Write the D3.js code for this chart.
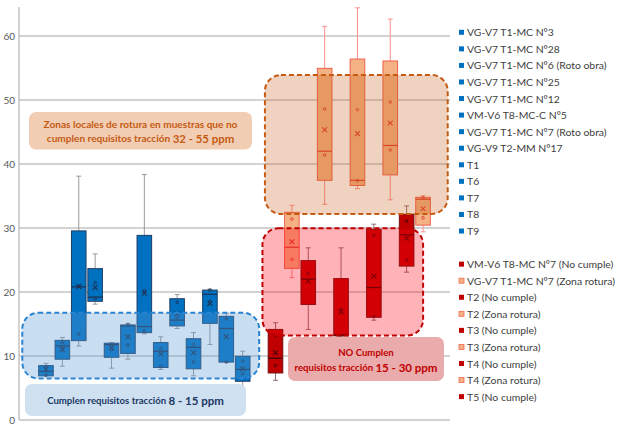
<!DOCTYPE html>
<html>
<head>
<meta charset="utf-8">
<script src="https://cdn.jsdelivr.net/npm/d3@7"></script>
<style>
  body { margin: 0; background: #fff; }
  svg { display: block; font-family: Lato, "Open Sans", sans-serif; }
</style>
</head>
<body>
<svg id="chart" width="617" height="434"></svg>
<script>
// Box-and-whisker series, one per sample; "" marks the empty slot between groups.
const seriesNames = [
  "VG-V7 T1-MC Nº3", "VG-V7 T1-MC Nº28", "VG-V7 T1-MC Nº6 (Roto obra)", "VG-V7 T1-MC Nº25",
  "VG-V7 T1-MC Nº12", "VM-V6 T8-MC-C Nº5", "VG-V7 T1-MC Nº7 (Roto obra)", "VG-V9 T2-MM Nº17",
  "T1", "T6", "T7", "T8", "T9", "",
  "VM-V6 T8-MC Nº7 (No cumple)", "VG-V7 T1-MC Nº7 (Zona rotura)", "T2 (No cumple)", "T2 (Zona rotura)",
  "T3 (No cumple)", "T3 (Zona rotura)", "T4 (No cumple)", "T4 (Zona rotura)", "T5 (No cumple)",
  "T5 (Zona rotura)"
];
// ok = meets the requirement, nc = does not, zr = local breakage zone
const seriesGroup = [
  "ok","ok","ok","ok","ok","ok","ok","ok","ok","ok","ok","ok","ok", null,
  "nc","zr","nc","zr","nc","zr","nc","zr","nc","zr"
];
const whiskerLow  = [6.9, 8.4, 11.55, 18.1, 8.1, 9.5, 13.45, 7.9, 14.3, 6.9, 11.8, 9.05, 5.0, null,
                     6.2, 22.25, 14.15, 33.7, 13.1, 36.15, 15.6, 34.4, 23.1, 29.4];
const quartile1   = [6.9, 9.5, 12.4, 18.55, 9.8, 10.4, 13.65, 8.2, 14.7, 8.0, 15.1, 9.05, 6.05, null,
                     7.35, 23.7, 18.05, 37.45, 13.15, 36.65, 16.05, 38.3, 24.05, 30.45];
const medianVal   = [7.6, 11.6, 20.8, 19.2, 11.8, 14.7, 14.6, 10.75, 15.6, 11.35, 19.65, 14.3, 7.9, null,
                     9.65, 27.0, 22.0, 42.0, 13.3, 37.45, 20.7, 42.9, 28.95, 34.5];
const quartile3   = [8.5, 12.45, 29.55, 23.65, 12.0, 14.85, 28.85, 12.1, 18.95, 12.7, 20.3, 16.2, 9.95, null,
                     14.15, 32.45, 24.9, 54.95, 22.1, 56.4, 29.8, 56.1, 32.15, 34.8];
const whiskerHigh = [8.85, 12.9, 38.1, 25.95, 12.1, 15.1, 38.35, 13.0, 19.6, 13.65, 20.45, 16.7, 10.75, null,
                     15.2, 33.55, 26.9, 61.5, 26.9, 64.4, 30.6, 62.65, 33.45, 35.05];
const meanVal     = [7.9, 11.0, 20.85, 20.7, 11.3, 13.0, 19.8, 10.3, 16.6, 10.5, 18.2, 13.0, 8.0, null,
                     10.5, 27.85, 21.7, 45.35, 16.9, 44.75, 22.45, 46.4, 28.4, 33.0];
const innerPoints = [[7.0, 8.3], [12.1, 11.3], [13.4, 20.9], [21.45, 19.0], [11.6, 11.0], [11.7, 14.9],
                     [20.2, 13.9], [11.15, 8.4], [18.4, 15.9], [11.8, 9.1], [20.3, 18.5], [15.8, 9.05],
                     [9.2, 7.2], [],
                     [13.2, 8.5], [31.4, 25.1], [22.9], [48.6, 41.4], [17.2], [48.5, 37.4],
                     [28.85, 16.2], [49.7, 42.2], [31.1, 25.0], [31.6, 34.7]];
const legendCount = 23;
const yTicks = [0, 10, 20, 30, 40, 50, 60];

// Shaded requirement bands: x extent in slot units, y extent in ppm
const bands = [
  { key: "zr", from: 13.8, to: 24.95, low: 32.2, high: 53.9 },
  { key: "nc", from: 13.65, to: 23.45, low: 13.2, high: 29.95 },
  { key: "ok", from: -1.0, to: 13.45, low: 6.5, high: 16.75 }
];

const styles = {
  ok: { fill: "#0070C0", stroke: "#1f3f66", median: "#1f3050", mark: "#1f3050", whisker: "#9a9a9a", legend: "#0070C0", legendStroke: "none" },
  nc: { fill: "#C00000", stroke: "#6e1010", median: "#3a0000", mark: "#4a0000", whisker: "#8c7373", legend: "#C00000", legendStroke: "none" },
  zr: { fill: "#F4B183", stroke: "#f0604c", median: "#e0402c", mark: "#e0402c", whisker: "#ff8f8f", legend: "#F4B183", legendStroke: "#f06a50" }
};

const svg = d3.select("#chart");
const plot = { left: 19, right: 450, top: 7 };

const y = d3.scaleLinear().domain([0, 60]).range([420, 36]);
const x = d3.scaleBand().domain(d3.range(seriesNames.length))
  .range([plot.left, plot.right]).paddingInner(0.11).paddingOuter(1.2);
const bw = x.bandwidth();
const cx = i => x(i) + bw / 2;

// Gridlines and axis
svg.append("g").selectAll("line").data(yTicks).join("line")
  .attr("x1", plot.left).attr("x2", plot.right)
  .attr("y1", d => y(d)).attr("y2", d => y(d))
  .attr("stroke", "#a6a6a6").attr("stroke-width", 1);
svg.append("line").attr("x1", plot.left).attr("x2", plot.left)
  .attr("y1", plot.top).attr("y2", y(0)).attr("stroke", "#a6a6a6");

const yAxis = d3.axisLeft(y).tickValues(yTicks).tickSize(0).tickPadding(4);
svg.append("g").attr("transform", `translate(${plot.left},0)`).call(yAxis)
  .call(g => g.select(".domain").remove())
  .selectAll("text").attr("font-size", 10).attr("fill", "#595959")
  .attr("font-family", "Lato, 'Open Sans', sans-serif");

// Boxes
const idx = d3.range(seriesNames.length).filter(i => seriesGroup[i]);
const boxes = svg.append("g").selectAll("g").data(idx).join("g");

boxes.each(function(i) {
  const g = d3.select(this);
  const s = styles[seriesGroup[i]];
  const c = cx(i);
  // whiskers
  g.append("line").attr("x1", c).attr("x2", c).attr("y1", y(quartile3[i])).attr("y2", y(whiskerHigh[i]))
    .attr("stroke", s.whisker);
  g.append("line").attr("x1", c).attr("x2", c).attr("y1", y(quartile1[i])).attr("y2", y(whiskerLow[i]))
    .attr("stroke", s.whisker);
  [whiskerHigh[i], whiskerLow[i]].forEach(v => {
    g.append("line").attr("x1", c - 2.5).attr("x2", c + 2.5).attr("y1", y(v)).attr("y2", y(v))
      .attr("stroke", s.whisker);
  });
  // box
  g.append("rect").attr("x", x(i)).attr("width", bw)
    .attr("y", y(quartile3[i])).attr("height", y(quartile1[i]) - y(quartile3[i]))
    .attr("fill", s.fill).attr("stroke", s.stroke).attr("stroke-width", 1);
  // median
  g.append("line").attr("x1", x(i)).attr("x2", x(i) + bw)
    .attr("y1", y(medianVal[i])).attr("y2", y(medianVal[i]))
    .attr("stroke", s.median).attr("stroke-width", 1.2);
  // inner points
  innerPoints[i].forEach(v => {
    g.append("circle").attr("cx", c).attr("cy", y(v)).attr("r", 1.3)
      .attr("fill", "none").attr("stroke", s.mark).attr("stroke-width", 0.9);
  });
  // mean marker
  const my = y(meanVal[i]), r = 2.4;
  g.append("path").attr("d", `M${c - r},${my - r}L${c + r},${my + r}M${c - r},${my + r}L${c + r},${my - r}`)
    .attr("stroke", s.mark).attr("stroke-width", 1.1);
});

// Requirement bands drawn over the boxes
const bandFill = { ok: "rgba(91,155,213,0.33)", nc: "rgba(255,0,18,0.3)", zr: "rgba(197,90,17,0.27)" };
const bandStroke = { ok: "#2a84d2", nc: "#c00000", zr: "#c55a11" };
const step = x.step();
const slotX = s => x(0) + s * step;
svg.append("g").selectAll("rect").data(bands).join("rect")
  .attr("x", d => slotX(d.from)).attr("width", d => slotX(d.to) - slotX(d.from))
  .attr("y", d => y(d.high)).attr("height", d => y(d.low) - y(d.high))
  .attr("rx", 16).attr("ry", 16)
  .attr("fill", d => bandFill[d.key]).attr("stroke", d => bandStroke[d.key])
  .attr("stroke-width", 2).attr("stroke-dasharray", "5,3");

// Band captions
function caption(x0, y0, w, h, fill, lines, color) {
  svg.append("rect").attr("x", x0).attr("y", y0).attr("width", w).attr("height", h)
    .attr("rx", 7).attr("ry", 7).attr("fill", fill);
  const t = svg.append("g");
  lines.forEach(l => {
    const txt = t.append("text").attr("x", x0 + w / 2).attr("y", l.y)
      .attr("text-anchor", "middle").attr("dominant-baseline", "central")
      .attr("font-weight", "bold").attr("fill", color);
    l.parts.forEach(p => txt.append("tspan").attr("font-size", p.size).text(p.text));
  });
}
caption(29, 112, 223, 37.5, "#f1cdb4", [
  { y: 124, parts: [{ text: "Zonas locales de rotura en muestras que no", size: 10.1 }] },
  { y: 138.3, parts: [{ text: "cumplen requisitos tracción ", size: 10.1 }, { text: "32 - 55 ppm", size: 11.4 }] }
], "#c55a11");
caption(25, 384, 221, 32, "#cfe0f1", [
  { y: 400, parts: [{ text: "Cumplen requisitos tracción ", size: 9.6 }, { text: "8 - 15 ppm", size: 11.5 }] }
], "#203864");
caption(288, 337, 156, 44, "#e9abab", [
  { y: 352, parts: [{ text: "NO Cumplen", size: 9.6 }] },
  { y: 366.5, parts: [{ text: "requisitos tracción ", size: 9.6 }, { text: "15 - 30 ppm", size: 11.5 }] }
], "#c00000");

// Legend
const legend = svg.append("g").selectAll("g")
  .data(d3.range(legendCount).filter(i => seriesGroup[i]))
  .join("g").attr("transform", i => `translate(459,${32.3 + i * 16.56})`);
legend.append("rect").attr("x", 0).attr("y", -2.5).attr("width", 5).attr("height", 5)
  .attr("fill", i => styles[seriesGroup[i]].legend)
  .attr("stroke", i => styles[seriesGroup[i]].legendStroke).attr("stroke-width", 0.8);
legend.append("text").attr("x", 8).attr("y", 0).attr("dominant-baseline", "central")
  .attr("font-size", 10.4).attr("fill", "#404040").text(i => seriesNames[i]);
</script>
</body>
</html>
